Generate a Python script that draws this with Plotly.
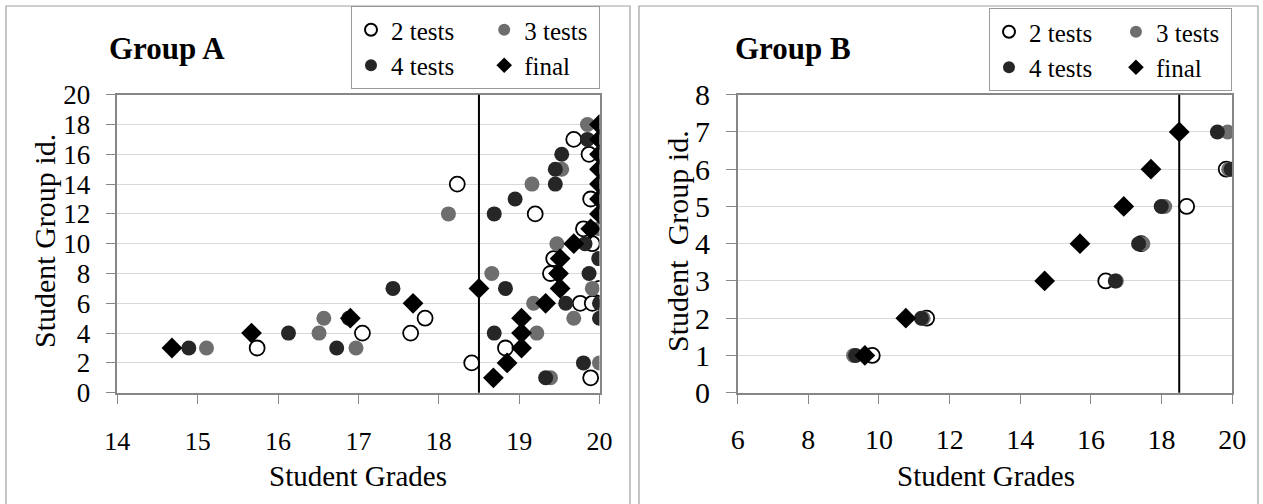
import plotly.graph_objects as go

# ---------------- data ----------------
SERIES = ["2 tests", "3 tests", "4 tests", "final"]
THRESHOLD = 18.5

# Group A : (grade, group id)
a_2tests_x = [15.74, 17.05, 17.65, 17.83, 18.23, 18.41, 18.83, 19.20, 19.89, 19.68, 19.87, 19.89, 19.80, 19.91, 19.43, 19.39, 20.00, 19.76, 19.91]
a_2tests_y = [3, 4, 4, 5, 14, 2, 3, 12, 1, 17, 16, 13, 11, 10, 9, 8, 7, 6, 6]
a_3tests_x = [15.11, 16.51, 16.57, 16.97, 18.12, 19.16, 19.53, 19.85, 20.00, 19.47, 18.66, 19.91, 19.18, 19.68, 19.22, 20.00, 19.39]
a_3tests_y = [3, 4, 5, 3, 12, 14, 15, 18, 11, 10, 8, 7, 6, 5, 4, 2, 1]
a_4tests_x = [14.89, 16.13, 16.73, 16.88, 17.43, 18.69, 18.95, 19.45, 19.45, 19.53, 19.85, 19.99, 19.87, 18.83, 19.58, 20.00, 20.00, 18.69, 19.80, 19.33, 19.90, 19.82]
a_4tests_y = [3, 4, 3, 5, 7, 12, 13, 14, 15, 16, 17, 9, 8, 7, 6, 6, 5, 4, 2, 1, 11, 10]
a_final_x = [14.68, 15.67, 16.90, 17.68, 18.50, 18.68, 18.85, 19.03, 19.03, 19.03, 19.33, 19.51, 19.49, 19.51, 19.68, 19.89, 20.00, 20.00, 20.00, 20.00, 20.00, 20.00, 20.00]
a_final_y = [3, 4, 5, 6, 7, 1, 2, 3, 4, 5, 6, 7, 8, 9, 10, 11, 12, 13, 14, 15, 16, 17, 18]

# Group B
b_2tests_x = [9.81, 11.35, 16.42, 17.42, 18.71, 19.83]
b_2tests_y = [1, 2, 3, 4, 5, 6]
b_3tests_x = [9.28, 11.25, 16.72, 17.47, 18.09, 19.90, 19.87]
b_3tests_y = [1, 2, 3, 4, 5, 6, 7]
b_4tests_x = [9.34, 11.20, 16.69, 17.35, 17.99, 19.97, 19.58]
b_4tests_y = [1, 2, 3, 4, 5, 6, 7]
b_final_x = [9.60, 10.76, 14.69, 15.69, 16.93, 17.70, 18.50]
b_final_y = [1, 2, 3, 4, 5, 6, 7]

# ---------------- styling ----------------
W, H = 1263, 504
FONT = "Liberation Serif, Times New Roman, serif"
NB = "\u00a0"


def px_x(p):
    return p / W


def px_y(p):
    return 1 - p / H


styles = {
    "2 tests": dict(symbol="circle", size=15, color="white", line=dict(color="black", width=1.8)),
    "3 tests": dict(symbol="circle", size=15, color="#6e6e6e", line=dict(width=0)),
    "4 tests": dict(symbol="circle", size=15, color="#262626", line=dict(width=0)),
    "final": dict(symbol="diamond", size=16, color="black", line=dict(width=0)),
}
groups = {"2 tests": "g1", "4 tests": "g1", "3 tests": "g2", "final": "g2"}
# padding so the two legend columns sit like the reference
padA = {"2 tests": NB * 4, "4 tests": NB * 4, "3 tests": NB, "final": NB}
padB = {"2 tests": NB * 3, "4 tests": NB * 3, "3 tests": NB, "final": NB}

fig = go.Figure()

panelA = {"2 tests": (a_2tests_x, a_2tests_y), "3 tests": (a_3tests_x, a_3tests_y),
          "4 tests": (a_4tests_x, a_4tests_y), "final": (a_final_x, a_final_y)}
panelB = {"2 tests": (b_2tests_x, b_2tests_y), "3 tests": (b_3tests_x, b_3tests_y),
          "4 tests": (b_4tests_x, b_4tests_y), "final": (b_final_x, b_final_y)}

for name in SERIES:
    xs, ys = panelA[name]
    fig.add_trace(go.Scatter(x=xs, y=ys, mode="markers", name=name + padA[name], marker=styles[name],
                             xaxis="x", yaxis="y", legend="legend", legendgroup="A" + groups[name]))
for name in SERIES:
    xs, ys = panelB[name]
    fig.add_trace(go.Scatter(x=xs, y=ys, mode="markers", name=name + padB[name], marker=styles[name],
                             xaxis="x2", yaxis="y2", legend="legend2", legendgroup="B" + groups[name]))

ydom = [px_y(392.7), px_y(94.7)]
axis_common = dict(showline=True, linecolor="#868686", linewidth=1.5, mirror=True,
                   ticks="outside", ticklen=10, tickcolor="#888888", tickwidth=1.2,
                   zeroline=False, color="black", automargin=False)

legend_common = dict(orientation="h", traceorder="grouped", yanchor="bottom", xanchor="right",
                     font=dict(size=25), bgcolor="white", bordercolor="#999999",
                     borderwidth=1, itemsizing="constant", tracegroupgap=0)

fig.update_layout(
    width=W, height=H, margin=dict(l=0, r=0, t=0, b=0, autoexpand=False),
    paper_bgcolor="white", plot_bgcolor="white",
    font=dict(family=FONT, color="black"),
    xaxis=dict(domain=[px_x(117.3), px_x(599.5)], range=[14, 20], dtick=1, anchor="y",
               showgrid=False, tickfont=dict(size=26), ticklabelstandoff=14, **axis_common),
    yaxis=dict(domain=ydom, range=[0, 20], dtick=2, anchor="x",
               showgrid=True, gridcolor="#d9d9d9", gridwidth=1,
               tickfont=dict(size=27), ticklabelstandoff=10, **axis_common),
    xaxis2=dict(domain=[px_x(737.7), px_x(1232.2)], range=[6, 20], dtick=2, anchor="y2",
                showgrid=False, tickfont=dict(size=28), ticklabelstandoff=11, **axis_common),
    yaxis2=dict(domain=ydom, range=[0, 8], dtick=1, anchor="x2",
                showgrid=True, gridcolor="#d9d9d9", gridwidth=1,
                tickfont=dict(size=30), ticklabelstandoff=10, **axis_common),
    legend=dict(x=px_x(600), y=px_y(89), **legend_common),
    legend2=dict(x=px_x(1232), y=px_y(91), **legend_common),
    showlegend=True,
)

# threshold lines (at the data value THRESHOLD)
for xr, yr in (("x", "y domain"), ("x2", "y2 domain")):
    fig.add_shape(type="line", xref=xr, yref=yr, x0=THRESHOLD, x1=THRESHOLD, y0=0, y1=1,
                  line=dict(color="black", width=2))

# panel borders
for x0, x1 in ((6, 630), (639, 1258)):
    fig.add_shape(type="rect", xref="paper", yref="paper", x0=px_x(x0), x1=px_x(x1),
                  y0=-0.1, y1=px_y(6), line=dict(color="#a0a0a0", width=1.2), layer="below")

# titles and axis titles
ann = [
    dict(text="<b>Group A</b>", x=px_x(107), y=px_y(49), xanchor="left", yanchor="middle", font=dict(size=31)),
    dict(text="<b>Group B</b>", x=px_x(733), y=px_y(49), xanchor="left", yanchor="middle", font=dict(size=31)),
    dict(text="Student Grades", x=px_x(358), y=px_y(476), xanchor="center", yanchor="middle", font=dict(size=29)),
    dict(text="Student Grades", x=px_x(986), y=px_y(476), xanchor="center", yanchor="middle", font=dict(size=29)),
    dict(text="Student Group id.", x=px_x(44), y=px_y(241), xanchor="center", yanchor="middle",
         textangle=-90, font=dict(size=30)),
    dict(text="Student  Group id.", x=px_x(677), y=px_y(241), xanchor="center", yanchor="middle",
         textangle=-90, font=dict(size=30)),
]
for a in ann:
    a.update(xref="paper", yref="paper", showarrow=False)
    fig.add_annotation(**a)

fig.write_html("out.html")
